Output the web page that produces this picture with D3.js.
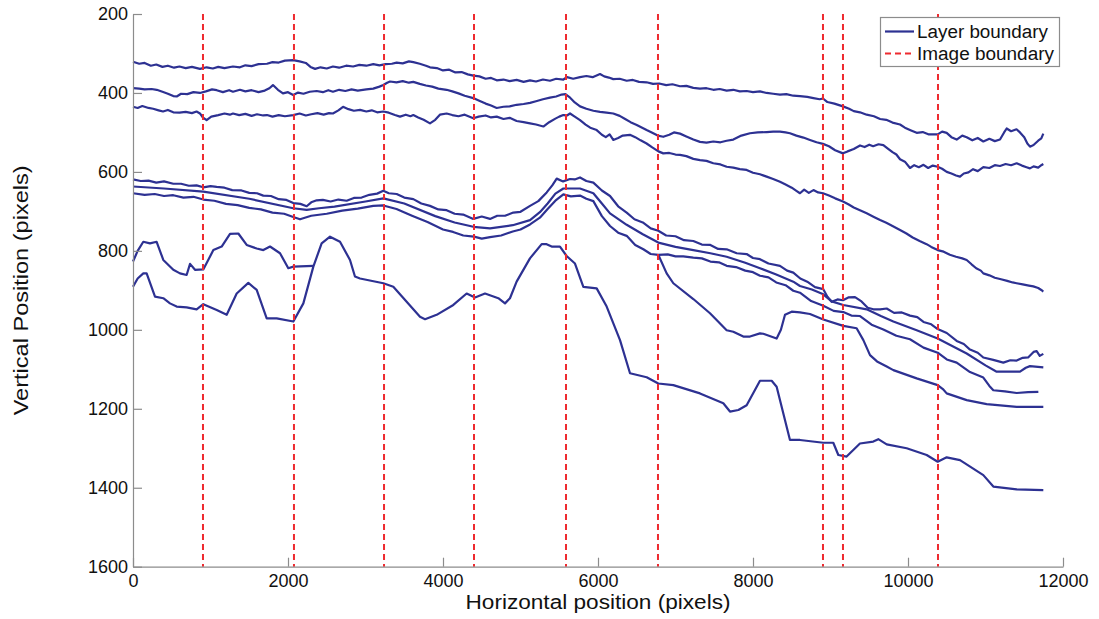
<!DOCTYPE html>
<html>
<head>
<meta charset="utf-8">
<script src="https://cdn.jsdelivr.net/npm/d3@7"></script>
<style>
  html, body { margin: 0; padding: 0; background: #fff; }
  svg { display: block; font-family: "Liberation Sans", Arial, Helvetica, sans-serif; }
</style>
</head>
<body>
<svg id="chart" width="1099" height="619"></svg>
<script>
// ---------------- DATA ----------------
const xTicks = [0, 2000, 4000, 6000, 8000, 10000, 12000];
const yTicks = [200, 400, 600, 800, 1000, 1200, 1400, 1600];
const imageBoundaries = [903, 2077, 3239, 4400, 5587, 6774, 8903, 9161, 10387];
const legendLabels = ["Layer boundary", "Image boundary"];

const layer1 = [[0,321],[80,326],[150,324],[230,331],[300,328],[380,334],[450,331],[530,336],[600,333],[680,337],[760,334],[864,339],[950,335],[1030,338],[1100,334],[1180,337],[1290,333],[1380,335],[1450,330],[1530,332],[1620,327],[1729,326],[1800,322],[1880,323],[1960,318],[2067,317],[2150,320],[2230,324],[2290,334],[2350,339],[2420,335],[2500,338],[2580,333],[2660,336],[2750,331],[2840,333],[2920,329],[3011,331],[3100,327],[3180,330],[3260,327],[3340,326],[3402,323],[3480,325],[3560,320],[3617,322],[3700,326],[3780,331],[3832,335],[3920,337],[4000,343],[4080,341],[4160,348],[4240,347],[4320,353],[4391,356],[4470,358],[4550,364],[4620,362],[4693,368],[4780,366],[4860,370],[4950,367],[5040,372],[5123,368],[5200,371],[5290,366],[5380,369],[5460,364],[5553,366],[5600,360],[5680,364],[5768,360],[5850,357],[5930,360],[6026,352],[6080,358],[6140,361],[6197,365],[6280,364],[6370,369],[6450,367],[6530,372],[6627,373],[6710,377],[6790,376],[6880,380],[6960,378],[7058,383],[7140,382],[7230,387],[7316,389],[7400,388],[7488,392],[7570,390],[7660,394],[7746,392],[7830,396],[7918,395],[8000,398],[8090,396],[8176,400],[8260,402],[8348,404],[8430,403],[8520,407],[8606,408],[8700,410],[8780,413],[8860,416],[8903,414],[8960,423],[9050,427],[9161,434],[9240,440],[9300,446],[9380,449],[9467,455],[9560,459],[9640,466],[9720,468],[9800,475],[9897,480],[9960,488],[10040,495],[10112,501],[10190,499],[10270,505],[10383,505],[10440,498],[10499,501],[10560,512],[10628,518],[10700,508],[10757,512],[10830,520],[10900,514],[10972,523],[11050,516],[11120,522],[11187,518],[11240,500],[11273,490],[11330,497],[11400,492],[11445,500],[11500,512],[11540,528],[11574,536],[11620,532],[11680,521],[11720,515],[11746,503]];

const layer2 = [[0,388],[80,389],[150,391],[240,390],[306,392],[380,397],[450,402],[520,408],[564,409],[620,402],[700,403],[780,398],[864,400],[940,396],[1020,391],[1080,393],[1160,398],[1240,393],[1290,397],[1380,392],[1450,396],[1530,393],[1620,398],[1700,394],[1760,388],[1806,380],[1870,392],[1935,401],[2000,398],[2067,405],[2130,399],[2200,402],[2280,397],[2370,395],[2450,398],[2520,393],[2580,397],[2660,392],[2740,395],[2820,391],[2900,394],[3011,391],[3100,389],[3180,384],[3230,380],[3280,374],[3316,371],[3400,373],[3480,370],[3560,374],[3617,372],[3700,377],[3780,381],[3860,384],[3940,389],[4047,392],[4120,396],[4200,401],[4280,407],[4391,413],[4460,419],[4550,427],[4620,432],[4693,438],[4780,435],[4860,434],[4950,430],[5040,428],[5123,425],[5200,421],[5290,416],[5380,412],[5460,409],[5530,404],[5580,403],[5640,412],[5700,424],[5768,434],[5850,440],[5940,445],[6026,448],[6110,450],[6197,452],[6280,458],[6350,466],[6420,474],[6500,481],[6570,488],[6627,494],[6700,501],[6770,508],[6842,511],[6920,506],[6980,500],[7058,503],[7140,510],[7230,518],[7316,524],[7400,526],[7488,523],[7580,525],[7660,521],[7746,518],[7850,508],[7961,502],[8060,500],[8176,499],[8260,498],[8348,498],[8420,500],[8477,502],[8560,508],[8650,513],[8735,519],[8820,525],[8903,529],[8980,535],[9060,545],[9161,553],[9220,548],[9300,542],[9381,533],[9440,537],[9500,531],[9550,535],[9620,530],[9682,532],[9740,541],[9800,550],[9850,556],[9897,568],[9960,574],[10026,590],[10080,583],[10140,588],[10200,582],[10260,590],[10320,584],[10383,587],[10440,592],[10500,600],[10560,604],[10620,609],[10671,612],[10720,604],[10780,601],[10840,593],[10900,598],[10972,588],[11050,590],[11120,583],[11187,585],[11260,580],[11330,583],[11402,578],[11470,584],[11530,588],[11574,591],[11620,586],[11680,589],[11720,583],[11746,580]];

const layer3 = [[0,435],[60,438],[120,433],[200,438],[260,440],[330,444],[387,447],[450,443],[520,449],[600,450],[680,448],[760,451],[820,447],[864,452],[900,462],[950,469],[1010,460],[1100,456],[1180,452],[1250,455],[1290,452],[1370,456],[1450,453],[1530,458],[1600,454],[1680,457],[1729,456],[1800,460],[1880,456],[1960,459],[2067,456],[2150,452],[2230,457],[2300,454],[2380,451],[2460,455],[2530,451],[2580,452],[2650,444],[2710,435],[2780,441],[2850,445],[2930,443],[3011,447],[3080,444],[3150,449],[3230,447],[3300,450],[3380,456],[3445,460],[3520,455],[3580,459],[3617,456],[3680,462],[3750,468],[3832,477],[3900,468],[3960,455],[4047,452],[4120,456],[4200,459],[4280,455],[4391,464],[4460,460],[4550,457],[4620,462],[4693,460],[4780,466],[4860,463],[4950,471],[5040,474],[5123,477],[5200,480],[5295,485],[5370,474],[5450,465],[5500,460],[5553,456],[5600,457],[5639,452],[5700,460],[5768,469],[5840,480],[5900,488],[5983,494],[6050,506],[6100,512],[6150,505],[6197,519],[6260,514],[6320,508],[6412,506],[6480,512],[6550,520],[6627,528],[6700,538],[6780,548],[6842,553],[6920,552],[7000,556],[7058,557],[7140,560],[7230,567],[7316,570],[7400,572],[7488,578],[7580,581],[7660,587],[7746,589],[7830,593],[7918,595],[8000,602],[8090,606],[8176,612],[8260,618],[8348,625],[8420,632],[8500,640],[8560,648],[8606,654],[8660,645],[8720,653],[8780,646],[8840,652],[8903,654],[8980,660],[9060,667],[9161,675],[9230,682],[9300,690],[9380,697],[9467,705],[9560,714],[9640,722],[9720,729],[9800,737],[9897,747],[9980,756],[10060,766],[10150,775],[10240,783],[10300,790],[10383,798],[10460,802],[10540,810],[10620,815],[10700,819],[10757,823],[10820,834],[10880,844],[10940,850],[10972,857],[11050,862],[11120,868],[11200,872],[11280,876],[11350,880],[11402,882],[11480,885],[11560,888],[11617,890],[11680,894],[11720,899],[11746,903]];

const layer4 = [[0,619],[100,623],[200,622],[300,627],[400,624],[520,630],[620,630],[720,635],[820,634],[907,639],[1000,636],[1080,638],[1180,640],[1280,646],[1400,647],[1500,653],[1600,654],[1681,660],[1780,661],[1880,669],[1980,671],[2068,679],[2160,681],[2241,687],[2300,677],[2370,672],[2450,671],[2550,675],[2650,670],[2757,673],[2850,666],[2950,665],[3050,658],[3150,655],[3230,648],[3300,654],[3402,656],[3500,665],[3617,669],[3720,680],[3832,686],[3940,695],[4047,697],[4150,706],[4260,708],[4391,719],[4500,713],[4607,719],[4700,711],[4800,711],[4907,703],[5000,701],[5123,686],[5230,674],[5338,652],[5410,634],[5467,617],[5550,624],[5639,618],[5700,619],[5768,614],[5850,623],[5940,627],[6050,647],[6155,661],[6260,687],[6370,703],[6470,720],[6578,728],[6680,743],[6778,749],[6880,761],[7000,763],[7110,773],[7230,775],[7340,784],[7450,785],[7550,795],[7660,796],[7790,806],[7918,808],[8000,818],[8090,821],[8200,832],[8348,838],[8440,850],[8520,855],[8610,870],[8700,878],[8800,892],[8907,897],[8960,916],[9015,929],[9090,923],[9161,925],[9230,918],[9316,917],[9400,928],[9480,944],[9553,948],[9640,948],[9725,946],[9820,957],[9920,956],[10026,964],[10120,968],[10200,980],[10300,986],[10383,998],[10500,1008],[10628,1028],[10720,1036],[10800,1050],[10900,1058],[10972,1070],[11100,1076],[11230,1083],[11320,1077],[11402,1078],[11480,1071],[11550,1070],[11620,1056],[11660,1054],[11700,1066],[11746,1061]];

const layer5 = [[0,637],[400,642],[907,650],[1500,668],[2068,692],[2241,696],[2400,692],[2600,688],[3000,675],[3230,667],[3500,680],[3900,712],[4150,728],[4391,739],[4607,743],[4900,735],[5123,722],[5250,702],[5350,680],[5450,655],[5553,642],[5768,642],[5940,654],[6050,680],[6155,705],[6370,734],[6578,758],[6778,779],[7000,790],[7230,798],[7450,806],[7660,815],[7900,830],[8090,844],[8300,860],[8520,878],[8606,889],[8760,898],[8907,910],[9015,928],[9165,937],[9467,948],[9650,965],[9811,979],[10112,1001],[10383,1022],[10757,1060],[11000,1090],[11144,1106],[11445,1106],[11520,1096],[11574,1092],[11746,1095]];

const layer6 = [[0,654],[150,658],[280,656],[400,661],[520,659],[650,665],[780,663],[907,670],[1050,673],[1200,681],[1350,684],[1500,691],[1650,695],[1800,703],[1950,706],[2068,714],[2155,720],[2300,711],[2500,706],[2700,698],[2900,693],[3100,686],[3230,685],[3400,694],[3600,711],[3800,727],[4000,746],[4130,752],[4262,761],[4400,764],[4500,769],[4607,765],[4750,761],[4900,751],[5000,746],[5123,733],[5250,716],[5350,694],[5450,673],[5553,657],[5650,662],[5768,660],[5850,668],[5940,674],[6050,712],[6155,737],[6260,754],[6370,762],[6480,785],[6585,796],[6680,808],[6778,810],[6900,809],[7000,814],[7100,814],[7230,817],[7340,819],[7450,827],[7560,829],[7660,838],[7780,841],[7900,850],[8000,854],[8090,863],[8200,867],[8300,880],[8420,887],[8520,901],[8606,906],[8750,927],[8907,939],[9040,952],[9165,955],[9270,964],[9381,965],[9530,987],[9682,999],[9850,1015],[10026,1024],[10200,1045],[10383,1058],[10500,1075],[10628,1083],[10800,1107],[10972,1121],[11050,1142],[11101,1153],[11250,1156],[11402,1160],[11550,1158],[11682,1157]];

const layer7Left = [[0,827],[60,800],[133,777],[219,781],[305,777],[391,823],[520,848],[606,857],[692,861],[736,833],[800,848],[907,847],[1037,798],[1144,789],[1252,757],[1359,756],[1467,785],[1596,794],[1682,798],[1768,789],[1897,806],[2004,844],[2069,840],[2327,838]];

const layer7Right = [[6778,810],[6886,857],[6972,882],[7230,922],[7445,958],[7660,1001],[7746,1005],[7875,1017],[7961,1017],[8090,1009],[8133,1010],[8305,1022],[8360,1000],[8413,962],[8499,954],[8606,956],[8735,960],[8907,974],[9165,990],[9337,996],[9424,1026],[9510,1064],[9600,1080],[9725,1093],[9811,1102],[10112,1123],[10383,1140],[10450,1150],[10499,1161],[10757,1178],[11015,1188],[11402,1195],[11746,1195]];

const layer8 = [[0,891],[60,870],[133,857],[176,857],[284,916],[391,920],[477,933],[563,941],[692,943],[821,948],[907,935],[1080,950],[1209,962],[1338,908],[1488,881],[1596,899],[1725,971],[1854,971],[2069,979],[2198,933],[2327,840],[2434,781],[2542,764],[2671,777],[2800,823],[2864,865],[2929,870],[3230,882],[3359,891],[3531,929],[3703,967],[3768,973],[3918,962],[4133,937],[4305,908],[4413,918],[4542,908],[4714,920],[4800,933],[4864,920],[4950,878],[5122,819],[5273,783],[5337,783],[5402,789],[5509,789],[5595,813],[5703,832],[5811,891],[5983,895],[6112,941],[6284,1026],[6413,1110],[6628,1120],[6778,1136],[6972,1140],[7316,1161],[7617,1186],[7703,1207],[7811,1203],[7918,1191],[8090,1129],[8241,1129],[8305,1144],[8477,1279],[8606,1279],[8907,1286],[9036,1286],[9101,1317],[9208,1321],[9380,1288],[9552,1283],[9617,1277],[9725,1290],[9983,1300],[10241,1317],[10383,1334],[10499,1323],[10671,1330],[10972,1368],[11101,1397],[11402,1404],[11746,1406]];

const layers = [layer1, layer2, layer3, layer4, layer5, layer6, layer7Left, layer7Right, layer8];

// ---------------- CHART ----------------
const svg = d3.select("#chart");
const margin = { left: 133, right: 36, top: 14, bottom: 52.3 };
const W = 1099, H = 619;

const x = d3.scaleLinear().domain([0, 12000]).range([margin.left, W - margin.right]);
const y = d3.scaleLinear().domain([200, 1600]).range([margin.top, H - margin.bottom]);

const blue = "#2d3192";
const red = "#ee2a2f";
const axisGray = "#8c8c8c";

const lineGen = d3.line().x(d => x(d[0])).y(d => y(d[1]));

// layer boundaries
svg.append("g").selectAll("path").data(layers).join("path")
  .attr("d", lineGen)
  .attr("fill", "none")
  .attr("stroke", blue)
  .attr("stroke-width", 2.2)
  .attr("stroke-linejoin", "round");

// image boundaries
svg.append("g").selectAll("line").data(imageBoundaries).join("line")
  .attr("x1", d => x(d)).attr("x2", d => x(d))
  .attr("y1", y(200)).attr("y2", y(1600))
  .attr("stroke", red)
  .attr("stroke-width", 2)
  .attr("stroke-dasharray", "6,4");

// axes
const xAxis = d3.axisBottom(x).tickValues(xTicks).tickFormat(d3.format("d"))
  .tickSizeInner(-9).tickSizeOuter(0).tickPadding(8);
const yAxis = d3.axisLeft(y).tickValues(yTicks).tickFormat(d3.format("d"))
  .tickSizeInner(-9).tickSizeOuter(0).tickPadding(5);

const gx = svg.append("g").attr("transform", `translate(0,${y(1600)})`).call(xAxis);
const gy = svg.append("g").attr("transform", `translate(${x(0)},0)`).call(yAxis);

[gx, gy].forEach(g => {
  g.select(".domain").attr("stroke", axisGray).attr("stroke-width", 1.2);
  g.selectAll(".tick line").attr("stroke", axisGray).attr("stroke-width", 1.2);
  g.selectAll(".tick text").attr("fill", "#111").attr("font-size", 18)
    .attr("font-family", "'Liberation Sans', Arial, Helvetica, sans-serif");
});

// axis titles
svg.append("text")
  .attr("x", (x(0) + x(12000)) / 2).attr("y", 609)
  .attr("text-anchor", "middle").attr("font-size", 20).attr("fill", "#111")
  .attr("textLength", 265).attr("lengthAdjust", "spacingAndGlyphs")
  .text("Horizontal position (pixels)");

svg.append("text")
  .attr("transform", `translate(28,${(y(200) + y(1600)) / 2}) rotate(-90)`)
  .attr("text-anchor", "middle").attr("font-size", 20).attr("fill", "#111")
  .attr("textLength", 250).attr("lengthAdjust", "spacingAndGlyphs")
  .text("Vertical Position (pixels)");

// legend
const lg = svg.append("g");
lg.append("rect").attr("x", 880.5).attr("y", 17.5).attr("width", 179).attr("height", 49)
  .attr("fill", "#fff").attr("stroke", "#8c8c8c").attr("stroke-width", 1.2);
const legendStyles = [
  { color: blue, dash: null, w: 2.2, len: 131 },
  { color: red, dash: "6,4", w: 2, len: 137 }
];
legendLabels.forEach((lab, i) => {
  const cy = 31.5 + i * 22;
  lg.append("line").attr("x1", 885).attr("x2", 914).attr("y1", cy).attr("y2", cy)
    .attr("stroke", legendStyles[i].color).attr("stroke-width", legendStyles[i].w)
    .attr("stroke-dasharray", legendStyles[i].dash);
  lg.append("text").attr("x", 917).attr("y", cy).attr("dy", "0.35em")
    .attr("font-size", 18).attr("fill", "#111")
    .attr("textLength", legendStyles[i].len).attr("lengthAdjust", "spacingAndGlyphs")
    .text(lab);
});
</script>
</body>
</html>
